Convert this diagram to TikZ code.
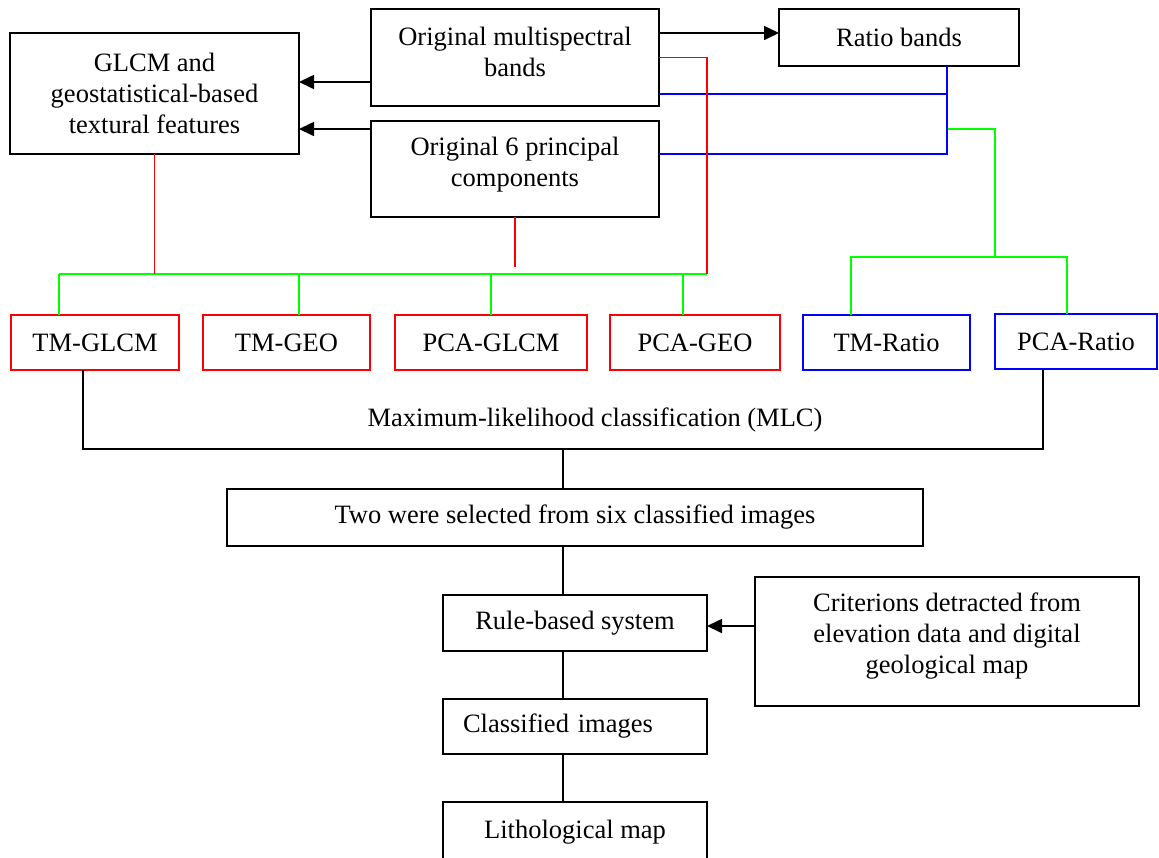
\documentclass[tikz,border=0pt]{standalone}
\usepackage{fontspec}
\setmainfont{Liberation Serif}
\usetikzlibrary{arrows.meta}

\begin{document}
\begin{tikzpicture}[x=1pt, y=-1pt,
    every node/.style={font=\fontsize{26.5}{31}\selectfont,
        inner sep=0pt, outer sep=0pt, align=center},
    bloc/.style={draw=black, line width=1.8pt},
    blocroja/.style={bloc, draw=red, minimum height=55pt},
    blocblava/.style={bloc, draw=blue, minimum height=55pt},
    fletxa/.style={line width=1.7pt, -{Triangle[length=15pt,width=14pt]}},
    roja/.style={red, line width=1.6pt},
    verda/.style={green, line width=1.6pt},
    blava/.style={blue, line width=1.6pt},
    linia/.style={black, line width=1.2pt}
    ]
    \useasboundingbox (0,0) rectangle (1159,857);

    % caixes de dalt
    \node[bloc, minimum width=289pt, minimum height=121pt] (glcm) at (154.5,93.5)
        {GLCM and\\ geostatistical-based\\ textural features};
    \node[bloc, minimum width=288pt, minimum height=97pt, text depth=11pt] (multi) at (515,57.5)
        {Original multispectral\\ bands};
    \node[bloc, minimum width=288pt, minimum height=96pt, text depth=14pt] (pca) at (515,169)
        {Original 6 principal\\ components};
    \node[bloc, minimum width=240pt, minimum height=57pt] (ratio) at (899,37.5)
        {Ratio bands};

    % fila de combinacions
    \node[blocroja, minimum width=168pt] (tmglcm) at (95,342.5) {TM-GLCM};
    \node[blocroja, minimum width=167pt] (tmgeo) at (286.5,342.5) {TM-GEO};
    \node[blocroja, minimum width=192pt] (pcaglcm) at (491,342.5) {PCA-GLCM};
    \node[blocroja, minimum width=170pt] (pcageo) at (695,342.5) {PCA-GEO};
    \node[blocblava, minimum width=167pt] (tmratio) at (886.5,342.5) {TM-Ratio};
    \node[blocblava, minimum width=162pt] (pcaratio) at (1076,341.5) {PCA-Ratio};

    % classificacio
    \node (mlc) at (595,420) {Maximum-likelihood classification (MLC)};
    \node[bloc, minimum width=696pt, minimum height=57pt] (two) at (575,517.5)
        {Two were selected from six classified images};
    \node[bloc, minimum width=264pt, minimum height=56pt] (rule) at (575,623)
        {Rule-based system};
    \node[bloc, minimum width=384pt, minimum height=129pt, text depth=16pt] (crit) at (947,641.5)
        {Criterions detracted from\\ elevation data and digital\\ geological map};
    \node[bloc, minimum width=264pt, minimum height=55pt, text width=224pt, align=left]
        (clas) at (575,726.5) {Classified images};
    \node[bloc, minimum width=264pt, minimum height=60pt] (lito) at (575,832)
        {Lithological map};

    \coordinate (busL) at (59,274);
    \coordinate (busR) at (707,274);
    \coordinate (rb) at ([xshift=48pt]ratio.south);
    \coordinate (gv) at (947,129);
    \coordinate (gb) at (995,258);
    \coordinate (bar) at (563,449);

    % fletxes
    \draw[fletxa] ([yshift=-24.5pt]multi.west) -- ([yshift=-24.5pt]multi.west -| glcm.east);
    \draw[fletxa] ([yshift=40pt]pca.west) -- ([yshift=40pt]pca.west -| glcm.east);
    \draw[fletxa] ([yshift=24.5pt]multi.east) -- ([yshift=24.5pt]multi.east -| ratio.west);
    \draw[fletxa] ([yshift=15.5pt]crit.west) -- ([yshift=15.5pt]crit.west -| rule.east);

    % linies verdes
    \draw[verda] (busL) -- (busR);
    \foreach \n/\d in {tmglcm/-36, tmgeo/12.5, pcaglcm/0, pcageo/-12}
        \draw[verda] ([xshift=\d pt]\n.north) -- ([xshift=\d pt]\n.north |- busL);
    \draw[verda] (gv) -| (gb);
    \draw[verda] ([xshift=-35.5pt]tmratio.north) -- ++(0,-58) -| ([xshift=-9pt]pcaratio.north);

    % linies blaves
    \draw[blava] ([yshift=-36.5pt]multi.east) -- ([yshift=-36.5pt]multi.east -| rb);
    \draw[blava] ([yshift=15pt]pca.east) -| (rb);

    % linies roges
    \draw[roja] (glcm.south) -- (glcm.south |- busL);
    \draw[roja] (pca.south) -- ++(0,50);
    \draw[roja] (multi.east) -| (busR);

    % linies negres
    \draw[linia] ([xshift=-12pt]tmglcm.south) |- (bar) -| ([xshift=-33pt]pcaratio.south);
    \draw[linia] (bar) -- (bar |- two.north);
    \draw[linia] (two.south -| bar) -- (rule.north -| bar);
    \draw[linia] (rule.south -| bar) -- (clas.north -| bar);
    \draw[linia] (clas.south -| bar) -- (lito.north -| bar);
\end{tikzpicture}
\end{document}
